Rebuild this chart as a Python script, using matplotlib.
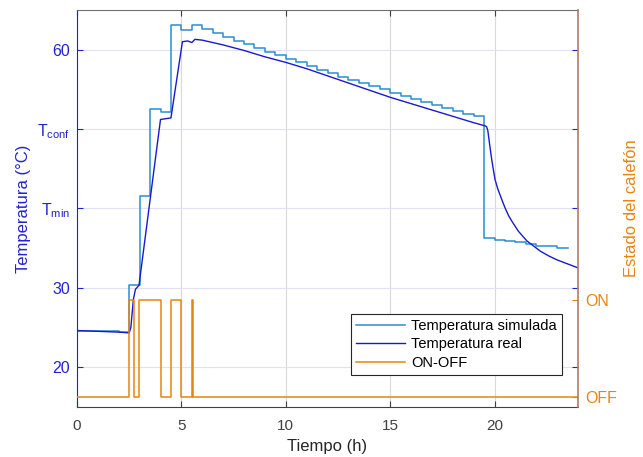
import matplotlib.pyplot as plt

plt.rcParams['font.family'] = ['Liberation Sans', 'DejaVu Sans']

# Temperatura simulada (escalones cada 0.5 h)
t_sim = [0, 0.5, 1.0, 1.5, 2.0, 2.5, 3.0, 3.5, 4.0, 4.5, 5.0, 5.5, 6.0, 6.5,
         7.0, 7.5, 8.0, 8.5, 9.0, 9.5, 10.0, 10.5, 11.0, 11.5, 12.0, 12.5,
         13.0, 13.5, 14.0, 14.5, 15.0, 15.5, 16.0, 16.5, 17.0, 17.5, 18.0,
         18.5, 19.0, 19.5, 20.0, 20.5, 21.0, 21.5, 22.0, 22.5, 23.0, 23.5]
T_sim = [24.6, 24.6, 24.5, 24.5, 24.4, 30.3, 41.5, 52.5, 52.2, 63.1, 62.5,
         63.1, 62.6, 62.1, 61.6, 61.1, 60.7, 60.2, 59.7, 59.3, 58.8, 58.4,
         57.9, 57.5, 57.1, 56.6, 56.2, 55.8, 55.4, 55.0, 54.6, 54.2, 53.8,
         53.4, 53.0, 52.6, 52.3, 51.9, 51.6, 36.2, 36.0, 35.9, 35.7, 35.5,
         35.3, 35.2, 35.0, 35.0]

# Temperatura real
t_real = [0, 1.0, 2.0, 2.5, 2.58, 2.7, 2.8, 2.97, 4.0, 4.5, 5.05, 5.3, 5.5,
          5.65, 6.0, 7.0, 8.0, 9.0, 10.0, 11.0, 12.0, 13.0, 14.0, 15.0, 16.0,
          17.0, 18.0, 19.0, 19.55, 19.62, 19.68, 19.74, 19.8, 19.87, 19.95,
          20.03, 20.15, 20.35, 20.5, 20.67, 20.85, 21.0, 21.15, 21.35, 21.55,
          21.8, 22.2, 22.6, 23.0, 23.4, 23.7, 24.0]
T_real = [24.6, 24.5, 24.4, 24.3, 25.0, 28.5, 29.8, 30.3, 51.2, 51.4, 61.0,
          61.1, 60.9, 61.3, 61.2, 60.6, 59.9, 59.1, 58.4, 57.6, 56.7, 55.8,
          54.9, 54.0, 53.2, 52.4, 51.6, 50.8, 50.4, 50.3, 49.8, 48.6, 47.4,
          46.1, 44.8, 43.6, 42.5, 41.1, 40.1, 39.1, 38.3, 37.7, 37.1, 36.5,
          35.9, 35.4, 34.6, 34.0, 33.5, 33.1, 32.8, 32.5]

# Estado del calefón
t_onoff = [0, 2.5, 2.73, 2.97, 4.0, 4.5, 5.0, 5.5, 5.55, 24]
s_onoff = [0, 1, 0, 1, 0, 1, 0, 1, 0, 0]

c_sim = '#2a8fd2'
c_real = '#1a1acc'
c_on = '#e8850f'
c_left = '#2323cc'
c_gray = '#404040'

fig = plt.figure(figsize=(6.43, 4.57), dpi=100)
ax = fig.add_axes([77/643, 1 - 406.7/457, 501/643, 396.7/457])
ax2 = ax.twinx()

l1, = ax.plot(t_sim, T_sim, drawstyle='steps-post', color=c_sim, lw=1.1,
              label='Temperatura simulada')
l2, = ax.plot(t_real, T_real, color=c_real, lw=1.0, label='Temperatura real')
l3, = ax2.plot(t_onoff, s_onoff, drawstyle='steps-post', color=c_on, lw=1.1,
               label='ON-OFF')

ax.set_xlim(0, 24)
ax.set_ylim(15, 65)
ax2.set_ylim(-0.1, 4.0)

ax.set_xticks([0, 5, 10, 15, 20])
ax.set_yticks([20, 30, 40, 50, 60])
ax.set_yticklabels(['20', '30', r'$\mathregular{T_{min}}$',
                    r'$\mathregular{T_{conf}}$', '60'])
ax2.set_yticks([0, 1])
ax2.set_yticklabels(['OFF', 'ON'])

ax.grid(axis='x', color='#d9d9d9', lw=0.8)
ax.grid(axis='y', color='#e1e1f5', lw=0.8)

ax.tick_params(axis='x', direction='in', top=True, length=4, colors=c_gray,
               labelsize=11, pad=9)
ax.tick_params(axis='y', direction='in', right=True, length=4, colors=c_left,
               labelsize=11.5, pad=5)
ax2.tick_params(axis='y', direction='in', length=4, colors=c_on,
                labelsize=11.5, pad=5)

ax.spines['left'].set_color(c_left)
ax.spines['top'].set_color('#6e6e6e')
ax.spines['bottom'].set_color(c_gray)
ax2.spines['left'].set_visible(False)
ax2.spines['top'].set_visible(False)
ax2.spines['bottom'].set_visible(False)
ax2.spines['right'].set_color('#b47a62')
ax2.spines['right'].set_linewidth(1.2)
ax.spines['right'].set_visible(False)

ax.set_xlabel('Tiempo (h)', fontsize=12, color='#262626', labelpad=4)
ax.set_ylabel('Temperatura (°C)', fontsize=12, color=c_left, labelpad=4)
ax2.set_ylabel('Estado del calefón', fontsize=12, color=c_on, labelpad=5)

leg = ax2.legend(handles=[l1, l2, l3], loc='lower right',
                 bbox_to_anchor=(0.968, 0.08), fontsize=10.5, fancybox=False,
                 framealpha=1, edgecolor='#262626', borderpad=0.35,
                 labelspacing=0.3, handlelength=3.4, handletextpad=0.4,
                 borderaxespad=0)
leg.get_frame().set_linewidth(0.8)

fig.savefig('out.png', dpi=100)
